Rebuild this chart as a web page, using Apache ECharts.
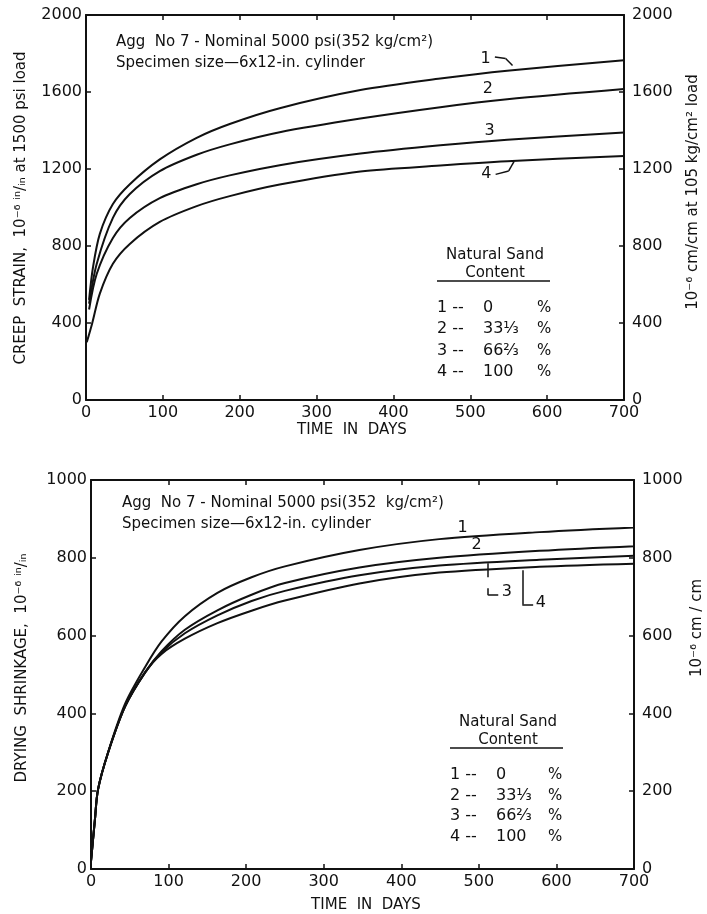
<!DOCTYPE html>
<html>
<head>
<meta charset="utf-8">
<script src="https://cdn.jsdelivr.net/npm/echarts@6/dist/echarts.min.js"></script>
<style>
html, body { margin: 0; padding: 0; background: #fff; }
#main { width: 707px; height: 914px; }
</style>
</head>
<body>
<div id="main"></div>
<script>
// creep strain curves (days, 10^-6 in/in)
const creepDays1 = [4, 9, 18, 35, 57, 96, 144, 187, 252, 357, 461, 548, 700];
const creep1 = [520, 687, 863, 1018, 1121, 1250, 1362, 1434, 1516, 1610, 1670, 1711, 1765];
const creepDays2 = [4, 14, 35, 57, 96, 144, 187, 252, 357, 461, 548, 700];
const creep2 = [500, 708, 946, 1070, 1189, 1274, 1328, 1391, 1462, 1521, 1562, 1615];
const creepDays3 = [4, 14, 35, 57, 96, 144, 187, 252, 357, 461, 548, 700];
const creep3 = [470, 656, 842, 946, 1049, 1121, 1167, 1220, 1280, 1323, 1352, 1390];
const creepDays4 = [1, 8, 18, 35, 57, 96, 144, 187, 252, 357, 461, 548, 700];
const creep4 = [300, 398, 553, 708, 811, 925, 1007, 1059, 1119, 1187, 1218, 1240, 1268];

// drying shrinkage curves (days, 10^-6 in/in)
const shrinkDays1 = [0, 5, 9, 22, 44, 70, 91, 121, 163, 207, 250, 346, 449, 578, 700];
const shrink1 = [20, 126, 204, 300, 425, 520, 585, 650, 710, 750, 778, 820, 848, 866, 878];
const shrinkDays2 = [0, 5, 9, 22, 44, 70, 91, 121, 163, 207, 250, 346, 449, 578, 700];
const shrink2 = [20, 126, 204, 299, 418, 506, 560, 615, 665, 705, 735, 775, 800, 818, 830];
const shrinkDays3 = [0, 5, 9, 22, 44, 70, 91, 121, 163, 207, 250, 346, 449, 578, 700];
const shrink3 = [20, 126, 204, 299, 418, 506, 557, 606, 652, 689, 715, 755, 780, 795, 805];
const shrinkDays4 = [0, 5, 9, 22, 44, 70, 91, 121, 163, 207, 250, 346, 449, 578, 700];
const shrink4 = [20, 126, 204, 299, 418, 506, 553, 592, 632, 664, 690, 734, 762, 777, 785];

const dayTicks = [0, 100, 200, 300, 400, 500, 600, 700];
const creepTicks = [0, 400, 800, 1200, 1600, 2000];
const shrinkTicks = [0, 200, 400, 600, 800, 1000];
const sandRows = [['1 --', '0'], ['2 --', '33⅓'], ['3 --', '66⅔'], ['4 --', '100']];

const FONT = 'DejaVu Sans';
const INK = '#111';

const chart = echarts.init(document.getElementById('main'));

function pairs(xs, ys) {
    return xs.map((x, i) => [x, ys[i]]);
}

function xAx(grid, pos, labels) {
    return {
        type: 'value', gridIndex: grid, position: pos, min: 0, max: 700, interval: 100,
        axisLine: { show: true, onZero: false, lineStyle: { color: INK, width: 2 } },
        axisTick: { show: true, inside: true, length: 5, lineStyle: { color: INK, width: 1.5 } },
        axisLabel: { show: labels, color: INK, fontFamily: FONT, fontSize: 16, margin: 5,
            formatter: v => dayTicks.includes(v) ? String(v) : '' },
        splitLine: { show: false }
    };
}

function yAx(grid, pos, max, step, ticks) {
    return {
        type: 'value', gridIndex: grid, position: pos, min: 0, max: max, interval: step,
        axisLine: { show: true, onZero: false, lineStyle: { color: INK, width: 2 } },
        axisTick: { show: true, inside: true, length: 5, lineStyle: { color: INK, width: 1.5 } },
        axisLabel: { show: true, color: INK, fontFamily: FONT, fontSize: 16, margin: pos === 'left' ? 4 : 8,
            formatter: v => ticks.includes(v) ? String(v) : '' },
        splitLine: { show: false }
    };
}

function curve(xi, yi, xs, ys, extra) {
    return Object.assign({
        type: 'line', xAxisIndex: xi, yAxisIndex: yi, data: pairs(xs, ys),
        smooth: 0.3, showSymbol: false, symbol: 'none',
        lineStyle: { color: INK, width: 2 }, silent: true
    }, extra || {});
}

function tag(coord, text) {
    return {
        coord: coord, value: text, symbol: 'circle', symbolSize: 1,
        itemStyle: { color: 'transparent' },
        label: { show: true, position: 'inside', formatter: text, color: INK, fontFamily: FONT, fontSize: 16 }
    };
}

function seg(a, b) {
    return [{ coord: a }, { coord: b }];
}

const leaderStyle = { color: INK, width: 1.5, type: 'solid' };

function txt(x, y, s, size, align, rot) {
    return {
        type: 'text', x: x, y: y, rotation: rot || 0,
        style: { text: s, fill: INK, font: (size || 15) + 'px "' + FONT + '"', align: align || 'left', verticalAlign: 'middle' }
    };
}

function legendBlock(cx, x0, xPct, yTitle, yLine, rowYs) {
    const els = [
        txt(cx, yTitle, 'Natural Sand', 15, 'center'),
        txt(cx, yTitle + 18, 'Content', 15, 'center'),
        { type: 'line', shape: { x1: x0, y1: yLine, x2: x0 + 113, y2: yLine }, style: { stroke: INK, lineWidth: 1.5 } }
    ];
    sandRows.forEach((r, i) => {
        els.push(txt(x0, rowYs[i], r[0], 16, 'left'));
        els.push(txt(x0 + 46, rowYs[i], r[1], 16, 'left'));
        els.push(txt(xPct, rowYs[i], '%', 15, 'left'));
    });
    return els;
}

const option = {
    backgroundColor: '#fff',
    animation: false,
    grid: [
        { left: 86, right: 83, top: 15, height: 385 },
        { left: 91, right: 73, top: 480, height: 389 }
    ],
    xAxis: [
        xAx(0, 'bottom', true), xAx(0, 'top', false),
        xAx(1, 'bottom', true), xAx(1, 'top', false)
    ],
    yAxis: [
        yAx(0, 'left', 2000, 400, creepTicks), yAx(0, 'right', 2000, 400, creepTicks),
        yAx(1, 'left', 1000, 200, shrinkTicks), yAx(1, 'right', 1000, 200, shrinkTicks)
    ],
    series: [
        curve(0, 0, creepDays1, creep1, {
            markPoint: { data: [tag([520, 1772], '1')] },
            markLine: { silent: true, symbol: 'none', lineStyle: leaderStyle, label: { show: false },
                data: [seg([532, 1782], [546, 1774]), seg([546, 1774], [555, 1738])] }
        }),
        curve(0, 0, creepDays2, creep2, { markPoint: { data: [tag([523, 1618], '2')] } }),
        curve(0, 0, creepDays3, creep3, { markPoint: { data: [tag([525, 1396], '3')] } }),
        curve(0, 0, creepDays4, creep4, {
            markPoint: { data: [tag([521, 1177], '4')] },
            markLine: { silent: true, symbol: 'none', lineStyle: leaderStyle, label: { show: false },
                data: [seg([533, 1172], [550, 1190]), seg([550, 1190], [557, 1240])] }
        }),
        curve(2, 2, shrinkDays1, shrink1, { markPoint: { data: [tag([479, 877], '1')] } }),
        curve(2, 2, shrinkDays2, shrink2, { markPoint: { data: [tag([497, 833], '2')] } }),
        curve(2, 2, shrinkDays3, shrink3, {
            markPoint: { data: [tag([536, 712], '3')] },
            markLine: { silent: true, symbol: 'none', lineStyle: leaderStyle, label: { show: false },
                data: [seg([512, 786], [512, 750]), seg([512, 722], [512, 704]), seg([512, 704], [525, 704])] }
        }),
        curve(2, 2, shrinkDays4, shrink4, {
            markPoint: { data: [tag([580, 683], '4')] },
            markLine: { silent: true, symbol: 'none', lineStyle: leaderStyle, label: { show: false },
                data: [seg([556, 768], [556, 680]), seg([556, 680], [570, 680])] }
        })
    ],
    graphic: [].concat(
        [
            txt(116, 42, 'Agg  No 7 - Nominal 5000 psi(352 kg/cm²)', 15),
            txt(116, 63, 'Specimen size—6x12-in. cylinder', 15),
            txt(352, 430, 'TIME  IN  DAYS', 15, 'center'),
            txt(21, 208, 'CREEP  STRAIN,  10⁻⁶ ⁱⁿ/ᵢₙ at 1500 psi load', 15, 'center', Math.PI / 2),
            txt(693, 192, '10⁻⁶ cm/cm at 105 kg/cm² load', 15, 'center', Math.PI / 2),
            txt(122, 503, 'Agg  No 7 - Nominal 5000 psi(352  kg/cm²)', 15),
            txt(122, 524, 'Specimen size—6x12-in. cylinder', 15),
            txt(366, 905, 'TIME  IN  DAYS', 15, 'center'),
            txt(22, 668, 'DRYING  SHRINKAGE,  10⁻⁶ ⁱⁿ/ᵢₙ', 15, 'center', Math.PI / 2),
            txt(697, 628, '10⁻⁶ cm / cm', 15, 'center', Math.PI / 2)
        ],
        legendBlock(495, 437, 537, 255, 281, [308, 329, 351, 372]),
        legendBlock(508, 450, 548, 722, 748, [775, 796, 816, 837])
    )
};

chart.setOption(option);
</script>
</body>
</html>
